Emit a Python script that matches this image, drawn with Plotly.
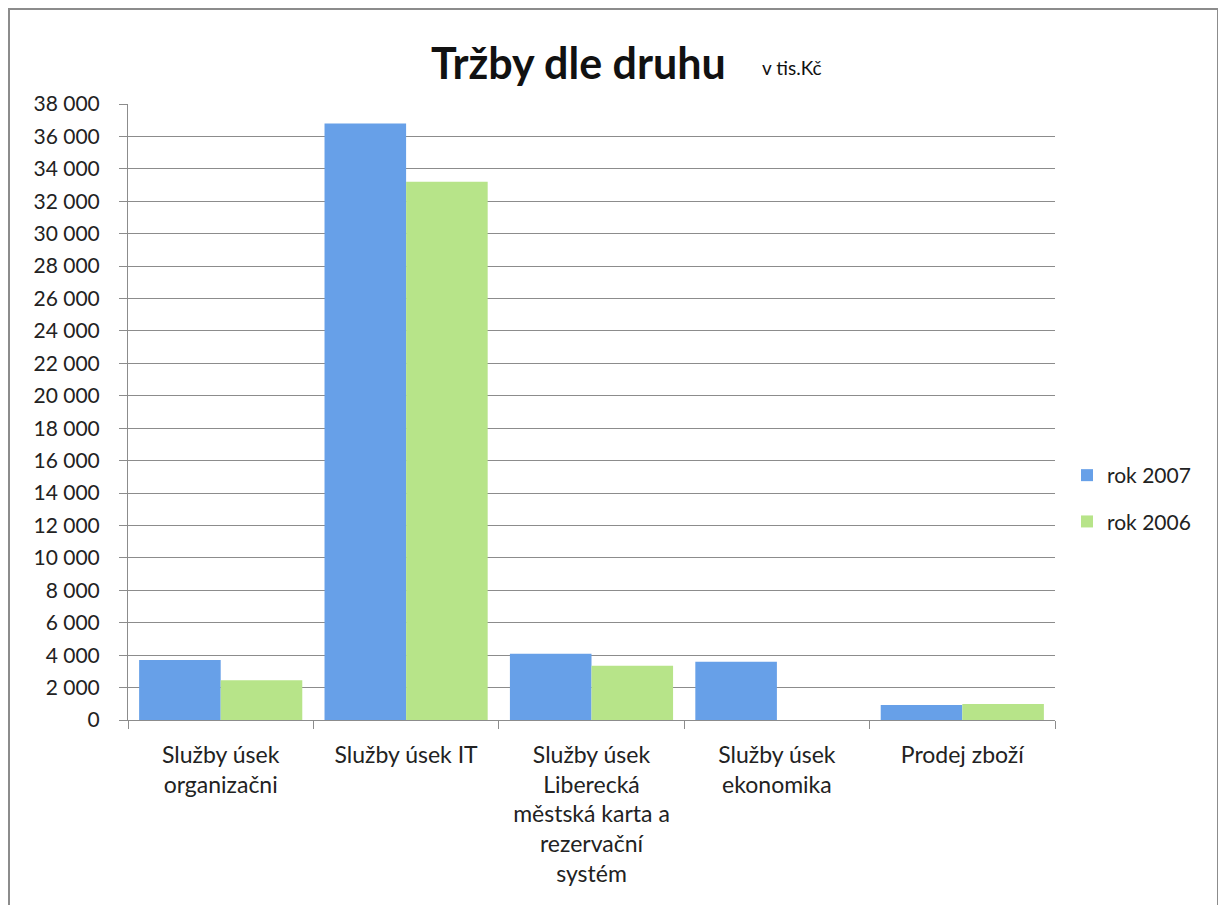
import plotly.graph_objects as go

categories = [
    "Služby úsek<br>organizačni",
    "Služby úsek IT",
    "Služby úsek<br>Liberecká<br>městská karta a<br>rezervační<br>systém",
    "Služby úsek<br>ekonomika",
    "Prodej zboží",
]
rok_2007 = [3700, 36800, 4080, 3600, 930]
rok_2006 = [2450, 33200, 3350, 0, 990]
tick_vals = list(range(0, 38001, 2000))
tick_text = [f"{v:,}".replace(",", " ") for v in tick_vals]

# page body has an 8px margin, so everything is placed relative to that
W, H = 1218, 897
L, R, T, B = 120, 171, 96, 185
pw, ph = W - L - R, H - T - B

def px_x(p):
    return (p - L) / pw

def px_y(p):
    return (H - B - p) / ph

fig = go.Figure()
fig.add_trace(go.Bar(x=categories, y=rok_2007, name="rok 2007", legendgroup="a",
                     marker=dict(color="#67a0e8", line=dict(width=0))))
fig.add_trace(go.Bar(x=categories, y=rok_2006, name="rok 2006", legendgroup="b",
                     marker=dict(color="#b7e489", line=dict(width=0))))

fig.update_layout(
    width=W, height=H,
    margin=dict(l=L, r=R, t=T, b=B),
    paper_bgcolor="white", plot_bgcolor="white",
    font=dict(family="Lato", color="#222", size=20),
    barmode="group", bargap=0.12, bargroupgap=0,
    legend=dict(x=px_x(1059), y=px_y(447), xanchor="left", yanchor="top",
                font=dict(size=21, color="#222"), itemwidth=30,
                tracegroupgap=16, bgcolor="rgba(0,0,0,0)"),
    xaxis=dict(showgrid=False, showline=True, linecolor="#8c8c8c",
               ticks="outside", tickson="boundaries", ticklen=8,
               tickcolor="#8c8c8c", tickangle=0, ticklabelstandoff=14,
               tickfont=dict(size=23, color="#222")),
    yaxis=dict(range=[0, 38000], tickvals=tick_vals, ticktext=tick_text,
               showgrid=True, gridcolor="#8c8c8c", gridwidth=1,
               showline=True, linecolor="#8c8c8c", ticks="outside",
               ticklen=8, tickcolor="#8c8c8c", zeroline=False,
               ticklabelstandoff=15,
               tickfont=dict(size=21, color="#222")),
    shapes=[dict(type="rect", xref="paper", yref="paper",
                 x0=px_x(1), x1=px_x(1210), y0=px_y(910), y1=px_y(1),
                 line=dict(color="#8c8c8c", width=2), layer="below")],
    annotations=[
        dict(text="<b>Tržby dle druhu</b>", xref="paper", yref="paper",
             x=px_x(570), y=px_y(54), xanchor="center", yanchor="middle",
             showarrow=False, font=dict(size=43, color="#111")),
        dict(text="v tis.Kč", xref="paper", yref="paper",
             x=px_x(752), y=px_y(60), xanchor="left", yanchor="middle",
             showarrow=False, font=dict(size=19, color="#111")),
    ],
)

fig.write_html("out.html")
